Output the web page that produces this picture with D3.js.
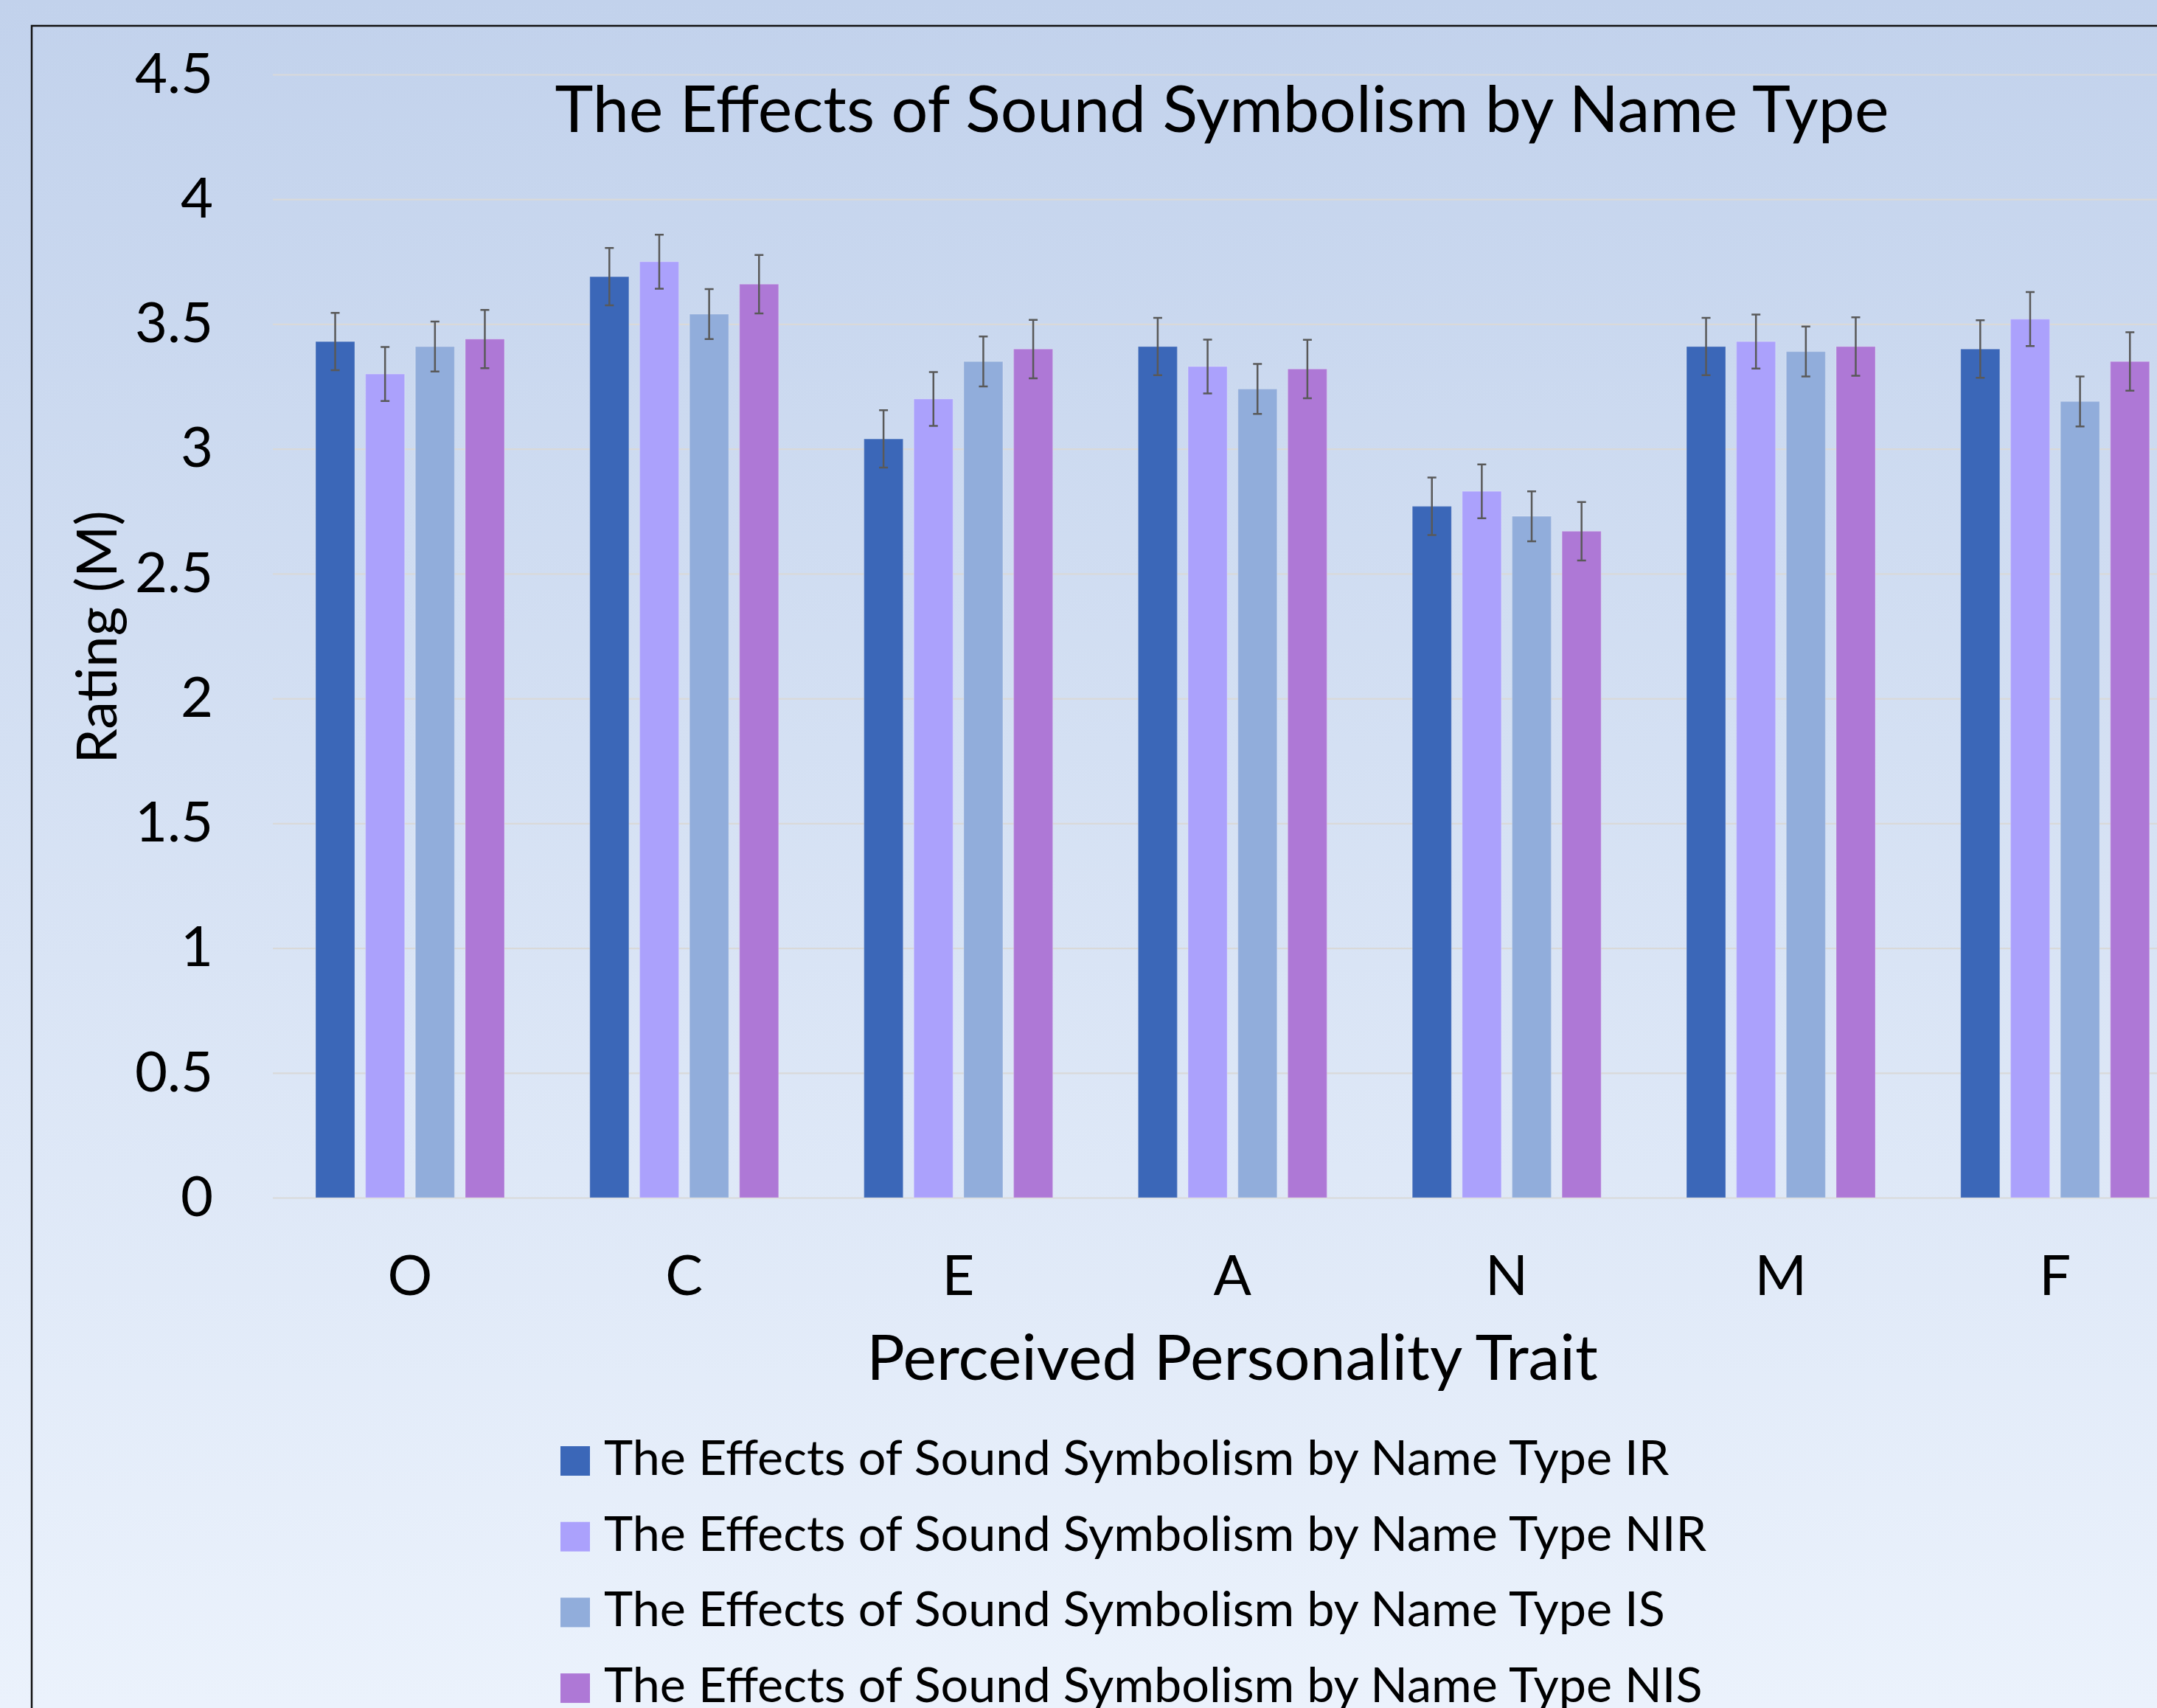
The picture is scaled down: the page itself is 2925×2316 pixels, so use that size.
<!DOCTYPE html>
<html>
<head>
<meta charset="utf-8">
<title>The Effects of Sound Symbolism by Name Type</title>
<script src="https://cdn.jsdelivr.net/npm/d3@7"></script>
<style>
  html, body { margin: 0; padding: 0; }
  body { width: 2925px; height: 2316px; overflow: hidden; }
  svg { display: block; font-family: Lato, "Open Sans", sans-serif; }
</style>
</head>
<body>
<svg width="2925" height="2316"></svg>
<script>
// Categories (perceived personality traits)
const traits = ["O", "C", "E", "A", "N", "M", "F"];

// Series keys and legend labels
const seriesKeys = ["IR", "NIR", "IS", "NIS"];
const legendLabels = [
  "The Effects of Sound Symbolism by Name Type IR",
  "The Effects of Sound Symbolism by Name Type NIR",
  "The Effects of Sound Symbolism by Name Type IS",
  "The Effects of Sound Symbolism by Name Type NIS"
];

// Mean ratings, one array per name type (order follows traits)
const irValues  = [3.43, 3.69, 3.04, 3.41, 2.77, 3.41, 3.40];
const nirValues = [3.30, 3.75, 3.20, 3.33, 2.83, 3.43, 3.52];
const isValues  = [3.41, 3.54, 3.35, 3.24, 2.73, 3.39, 3.19];
const nisValues = [3.44, 3.66, 3.40, 3.32, 2.67, 3.41, 3.35];

// Error bar half-lengths
const irErrors  = [0.115, 0.115, 0.115, 0.115, 0.115, 0.115, 0.115];
const nirErrors = [0.108, 0.108, 0.108, 0.108, 0.108, 0.108, 0.108];
const isErrors  = [0.100, 0.100, 0.100, 0.100, 0.100, 0.100, 0.100];
const nisErrors = [0.117, 0.117, 0.117, 0.117, 0.117, 0.117, 0.117];

// Y axis ticks
const yTicks = [0, 0.5, 1, 1.5, 2, 2.5, 3, 3.5, 4, 4.5];
const yTickLabels = ["0", "0.5", "1", "1.5", "2", "2.5", "3", "3.5", "4", "4.5"];

const chartTitle = "The Effects of Sound Symbolism by Name Type";
const xTitle = "Perceived Personality Trait";
const yTitle = "Rating (M)";

// building series from the arrays above
const allValues = [irValues, nirValues, isValues, nisValues];
const allErrors = [irErrors, nirErrors, isErrors, nisErrors];
const colors = ["#3b67b8", "#aba1fc", "#91addb", "#ae78d6"];

const series = seriesKeys.map((key, i) => ({
  key: key,
  color: colors[i],
  points: traits.map((t, j) => ({ trait: t, key: key, value: allValues[i][j], err: allErrors[i][j] }))
}));

const svg = d3.select("svg");
const W = 2925;
const H = 2316;

// plot area
const plotLeft = 370;
const bandW = 371.8;
const plotTop = 101;
const plotBottom = 1624;

// background gradient
const defs = svg.append("defs");
const grad = defs.append("linearGradient")
  .attr("id", "bg")
  .attr("x1", 0).attr("y1", 0)
  .attr("x2", 0).attr("y2", 1);
grad.append("stop").attr("offset", "0%").attr("stop-color", "#c2d2ec");
grad.append("stop").attr("offset", "100%").attr("stop-color", "#ebf2fc");

svg.append("rect")
  .attr("width", W)
  .attr("height", H)
  .attr("fill", "url(#bg)");

// scales
const x0 = d3.scaleBand()
  .domain(traits)
  .range([plotLeft, plotLeft + traits.length * bandW]);

const x1 = d3.scaleBand()
  .domain(seriesKeys)
  .range([58, 314])
  .paddingInner(0.216);

const y = d3.scaleLinear()
  .domain([0, 4.5])
  .range([plotBottom, plotTop]);

// gridlines
const grid = svg.append("g")
  .attr("transform", `translate(${plotLeft}, 0)`)
  .call(d3.axisLeft(y).tickValues(yTicks).tickSize(-(W - plotLeft)).tickFormat(""));
grid.select(".domain").remove();
grid.selectAll(".tick line")
  .attr("stroke", "#d9d9d9")
  .attr("stroke-width", 2.2);

// y axis labels
const yAxis = svg.append("g")
  .attr("transform", `translate(${plotLeft}, 0)`)
  .call(d3.axisLeft(y)
    .tickValues(yTicks)
    .tickSize(0)
    .tickPadding(81)
    .tickFormat((d, i) => yTickLabels[i]));
yAxis.select(".domain").remove();
yAxis.selectAll("text")
  .attr("font-family", "Lato, 'Open Sans', sans-serif")
  .attr("font-size", 76)
  .attr("fill", "#000");

// x axis labels
const xAxis = svg.append("g")
  .attr("transform", `translate(0, ${plotBottom})`)
  .call(d3.axisBottom(x0).tickSize(0).tickPadding(78));
xAxis.select(".domain").remove();
xAxis.selectAll("text")
  .attr("font-family", "Lato, 'Open Sans', sans-serif")
  .attr("font-size", 76)
  .attr("fill", "#000");

// bars
const groups = svg.selectAll(".series")
  .data(series)
  .enter()
  .append("g")
  .attr("class", "series");

groups.selectAll("rect")
  .data(d => d.points.map(p => ({ ...p, color: d.color })))
  .enter()
  .append("rect")
  .attr("x", d => x0(d.trait) + x1(d.key))
  .attr("y", d => y(d.value))
  .attr("width", x1.bandwidth())
  .attr("height", d => y(0) - y(d.value))
  .attr("fill", d => d.color)
  .attr("stroke", "rgba(255,255,255,0.18)")
  .attr("stroke-width", 1.5);

// error bars
const errG = svg.append("g")
  .attr("stroke", "#595959")
  .attr("stroke-width", 2.5)
  .attr("fill", "none");

const allPoints = series.flatMap(s => s.points);
const cx = d => x0(d.trait) + x1(d.key) + x1.bandwidth() / 2;
const cap = 6;

errG.selectAll(".err")
  .data(allPoints)
  .enter()
  .append("path")
  .attr("class", "err")
  .attr("d", d => {
    const c = cx(d);
    const yt = y(d.value + d.err);
    const yb = y(d.value - d.err);
    return `M${c},${yt}V${yb}M${c - cap},${yt}H${c + cap}M${c - cap},${yb}H${c + cap}`;
  });

// chart title
svg.append("text")
  .attr("x", 1657)
  .attr("y", 179)
  .attr("text-anchor", "middle")
  .attr("font-size", 88)
  .attr("fill", "#000")
  .text(chartTitle);

// x axis title
svg.append("text")
  .attr("x", 1671)
  .attr("y", 1871)
  .attr("text-anchor", "middle")
  .attr("font-size", 86)
  .attr("fill", "#000")
  .text(xTitle);

// y axis title
svg.append("text")
  .attr("transform", "translate(158, 864) rotate(-90)")
  .attr("text-anchor", "middle")
  .attr("font-size", 76)
  .attr("fill", "#000")
  .text(yTitle);

// legend
const legend = svg.append("g")
  .attr("transform", "translate(760, 1961)");

const rows = legend.selectAll(".row")
  .data(series)
  .enter()
  .append("g")
  .attr("class", "row")
  .attr("transform", (d, i) => `translate(0, ${i * 102.7})`);

rows.append("rect")
  .attr("width", 40)
  .attr("height", 40)
  .attr("fill", d => d.color);

rows.append("text")
  .attr("x", 59)
  .attr("y", 39)
  .attr("font-size", 66.5)
  .attr("fill", "#000")
  .text((d, i) => legendLabels[i]);

// chart frame (cut off at right and bottom)
svg.append("path")
  .attr("d", `M${W + 5},35H43V${H + 5}`)
  .attr("fill", "none")
  .attr("stroke", "#111")
  .attr("stroke-width", 2.5);
</script>
</body>
</html>
